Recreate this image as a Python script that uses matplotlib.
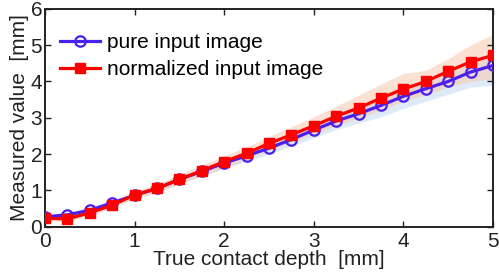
import matplotlib
matplotlib.use("Agg")
import matplotlib.pyplot as plt

plt.rcParams['font.family'] = ['Liberation Sans', 'DejaVu Sans']

depth = [0.0, 0.25, 0.5, 0.75, 1.0, 1.25, 1.5, 1.75, 2.0, 2.25, 2.5,
         2.75, 3.0, 3.25, 3.5, 3.75, 4.0, 4.25, 4.5, 4.75, 5.0]
pure = [0.27, 0.32, 0.45, 0.65, 0.86, 1.05, 1.30, 1.52, 1.75, 1.95, 2.16,
        2.40, 2.66, 2.91, 3.11, 3.34, 3.59, 3.80, 4.00, 4.26, 4.44]
norm = [0.23, 0.21, 0.38, 0.59, 0.87, 1.05, 1.30, 1.54, 1.79, 2.02, 2.29,
        2.53, 2.78, 3.04, 3.27, 3.54, 3.79, 4.00, 4.28, 4.54, 4.72]
pure_lo = [0.20, 0.25, 0.37, 0.56, 0.76, 0.94, 1.18, 1.39, 1.60, 1.80, 2.00,
           2.22, 2.45, 2.68, 2.85, 3.03, 3.26, 3.45, 3.65, 3.84, 3.90]
pure_hi = [0.34, 0.40, 0.54, 0.74, 0.95, 1.15, 1.40, 1.63, 1.86, 2.08, 2.30,
           2.55, 2.80, 3.05, 3.28, 3.55, 3.80, 4.02, 4.25, 4.55, 4.75]
norm_lo = [0.16, 0.14, 0.30, 0.50, 0.76, 0.94, 1.18, 1.40, 1.62, 1.85, 2.10,
           2.32, 2.55, 2.78, 2.98, 3.22, 3.45, 3.63, 3.85, 4.00, 4.08]
norm_hi = [0.30, 0.29, 0.47, 0.70, 0.98, 1.18, 1.44, 1.70, 1.95, 2.20, 2.48,
           2.75, 3.02, 3.32, 3.62, 3.93, 4.22, 4.31, 4.63, 5.00, 5.30]

labels = ['pure input image', 'normalized input image']
blue_c = '#4a1ff0'
red_c = '#ff0000'

fig = plt.figure(figsize=(4.99, 2.78), dpi=100)
ax = fig.add_axes([0.090, 0.185, 0.898, 0.783])

ax.fill_between(depth, pure_lo, pure_hi, color='#c9dcf2', alpha=0.6, lw=0)
ax.fill_between(depth, norm_lo, norm_hi, color='#f6c9ad', alpha=0.55, lw=0)

ax.plot(depth, pure, '-o', color=blue_c, lw=2.3, ms=7.5, mfc='none',
        mec=blue_c, mew=1.6, label=labels[0], zorder=3)
ax.plot(depth, norm, '-s', color=red_c, lw=2.3, ms=7.5, mfc=red_c,
        mec=red_c, label=labels[1], zorder=4)

ax.set_xlim(0, 5)
ax.set_ylim(0, 6)
ax.set_xticks(range(0, 6))
ax.set_yticks(range(0, 7))
ax.tick_params(direction='in', length=4, width=1, labelsize=15,
               top=True, right=True, colors='#222222')
ax.tick_params(axis='x', pad=4)
ax.tick_params(axis='y', pad=2)
for s in ax.spines.values():
    s.set_linewidth(1.4)
    s.set_color('#222222')

ax.set_xlabel('True contact depth  [mm]', fontsize=15, labelpad=-1, color='#222222')
ax.set_ylabel('Measured value  [mm]', fontsize=15, labelpad=1, color='#222222')

ax.legend(loc='upper left', frameon=False, fontsize=15, handlelength=1.9,
          borderaxespad=0.0, bbox_to_anchor=(0.034, 0.89), labelspacing=0.4,
          handletextpad=0.35, borderpad=0.0)

fig.savefig('out.png', dpi=100)
